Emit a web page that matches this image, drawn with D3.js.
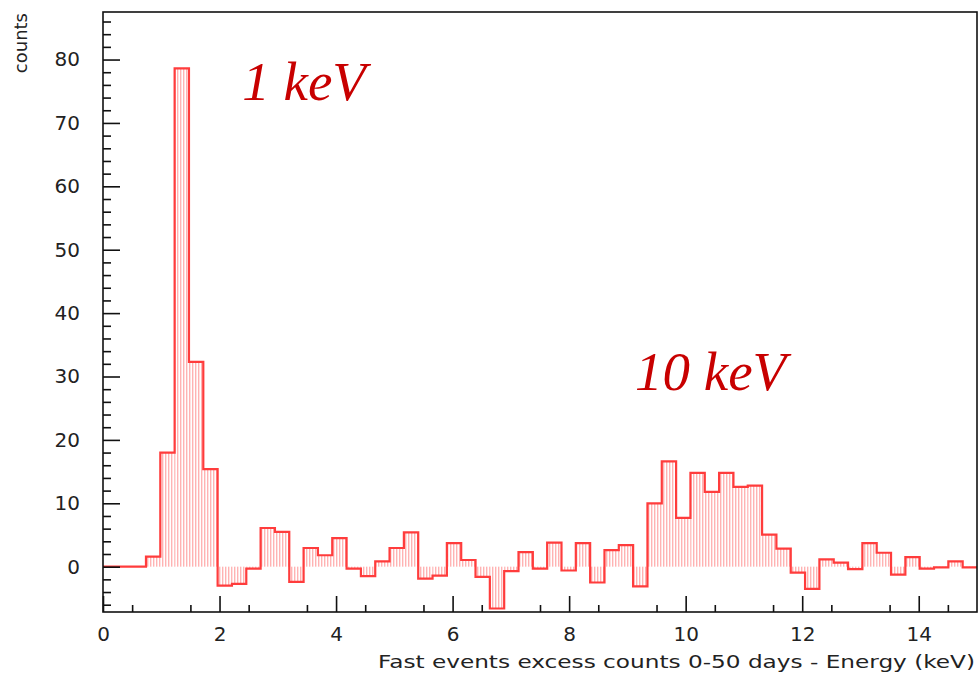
<!DOCTYPE html>
<html>
<head>
<meta charset="utf-8">
<script src="https://cdn.jsdelivr.net/npm/d3@7"></script>
<style>
  body { margin: 0; background: #fff; }
  svg { display: block; }
  .tick text { font-family: "DejaVu Sans", sans-serif; fill: #222; }
</style>
</head>
<body>
<div id="chart"></div>
<script>
// histogram: 61 bins spanning 0-15 keV
const binCount = 61;
const energyRange = [0, 15];
const counts = [
  0, 0, 0, 1.6, 18.0, 78.6, 32.3, 15.4, -3.0, -2.7,
  -0.3, 6.1, 5.5, -2.4, 2.95, 1.8, 4.5, -0.3, -1.5, 0.85,
  2.95, 5.4, -1.9, -1.4, 3.7, 1.05, -1.6, -6.6, -0.7, 2.3,
  -0.3, 3.8, -0.6, 3.7, -2.5, 2.6, 3.4, -3.1, 10.0, 16.6,
  7.7, 14.8, 11.8, 14.8, 12.6, 12.8, 5.05, 2.85, -0.95, -3.5,
  1.15, 0.65, -0.4, 3.7, 2.2, -1.25, 1.5, -0.3, -0.1, 0.85,
  -0.1
];
const xMajorTicks = [0, 2, 4, 6, 8, 10, 12, 14];
const yMajorTicks = [0, 10, 20, 30, 40, 50, 60, 70, 80];
const yDomain = [-7.15, 87.5];

const xTitle = 'Fast events excess counts 0-50 days - Energy (keV)';
const yTitle = 'counts';
const notes = [
  {label: '1 keV', x: 2.39, y: 73.6},
  {label: '10 keV', x: 9.13, y: 27.8}
];

const W = 978, H = 679;
const frame = {left: 103, right: 977, top: 12, bottom: 612};

const svg = d3.select('#chart').append('svg')
    .attr('width', W)
    .attr('height', H);

const x = d3.scaleLinear().domain(energyRange).range([frame.left, frame.right]);
const y = d3.scaleLinear().domain(yDomain).range([frame.bottom, frame.top]);

const binW = (energyRange[1] - energyRange[0]) / binCount;
const bins = counts.map((v, i) => ({x0: energyRange[0] + i * binW, x1: energyRange[0] + (i + 1) * binW, v: v}));

// vertical hatch fill like ROOT fill style
const defs = svg.append('defs');
defs.append('pattern')
    .attr('id', 'hatch')
    .attr('patternUnits', 'userSpaceOnUse')
    .attr('width', 3)
    .attr('height', 10)
  .append('rect')
    .attr('x', 0).attr('y', 0)
    .attr('width', 1.4).attr('height', 10)
    .attr('fill', '#ffb3b3');

svg.append('g').selectAll('rect')
    .data(bins)
    .enter()
    .append('rect')
    .attr('x', d => x(d.x0))
    .attr('width', d => x(d.x1) - x(d.x0))
    .attr('y', d => Math.min(y(d.v), y(0)))
    .attr('height', d => Math.abs(y(d.v) - y(0)))
    .attr('fill', 'url(#hatch)');

// step outline
const pts = [];
bins.forEach(d => { pts.push([d.x0, d.v]); pts.push([d.x1, d.v]); });
const line = d3.line().x(d => x(d[0])).y(d => y(d[1]));
svg.append('path')
    .datum(pts)
    .attr('d', line)
    .attr('fill', 'none')
    .attr('stroke', '#ff3c3c')
    .attr('stroke-width', 2.2)
    .attr('stroke-linejoin', 'miter');

// axes, ticks inside the frame
const xAxisMajor = d3.axisBottom(x).tickValues(xMajorTicks).tickSize(-16).tickPadding(15).tickFormat(d3.format('d'));
const xAxisMinor = d3.axisBottom(x).tickValues(d3.range(0.5, 15, 1)).tickSize(-7).tickFormat('');
const yAxisMajor = d3.axisLeft(y).tickValues(yMajorTicks).tickSize(-17).tickPadding(23).tickFormat(d3.format('d'));
const yAxisMinor = d3.axisLeft(y).tickValues(d3.range(-6, 88, 2).filter(v => v % 10 !== 0)).tickSize(-8).tickFormat('');

function styleAxis(g) {
  g.select('.domain').remove();
  g.selectAll('line').attr('stroke', '#111').attr('stroke-width', 1.6);
  g.selectAll('text').attr('font-size', 20);
}

svg.append('g').attr('transform', `translate(0,${frame.bottom})`).call(xAxisMajor).call(styleAxis);
svg.append('g').attr('transform', `translate(0,${frame.bottom})`).call(xAxisMinor).call(styleAxis);
svg.append('g').attr('transform', `translate(${frame.left},0)`).call(yAxisMajor).call(styleAxis);
svg.append('g').attr('transform', `translate(${frame.left},0)`).call(yAxisMinor).call(styleAxis);

// frame
svg.append('rect')
    .attr('x', frame.left)
    .attr('y', frame.top)
    .attr('width', frame.right - frame.left)
    .attr('height', frame.bottom - frame.top)
    .attr('fill', 'none')
    .attr('stroke', '#111')
    .attr('stroke-width', 1.6);

// titles
svg.append('text')
    .attr('x', 975)
    .attr('y', 668)
    .attr('text-anchor', 'end')
    .attr('font-family', '"DejaVu Sans", sans-serif')
    .attr('font-size', 18)
    .attr('fill', '#222')
    .attr('textLength', 597)
    .attr('lengthAdjust', 'spacingAndGlyphs')
    .text(xTitle);

svg.append('text')
    .attr('transform', 'translate(27,13) rotate(-90)')
    .attr('text-anchor', 'end')
    .attr('font-family', '"DejaVu Sans", sans-serif')
    .attr('font-size', 18)
    .attr('fill', '#222')
    .text(yTitle);

// annotations
svg.append('g').selectAll('text')
    .data(notes)
    .enter()
    .append('text')
    .attr('x', d => x(d.x))
    .attr('y', d => y(d.y))
    .attr('font-family', '"Liberation Serif", "Times New Roman", serif')
    .attr('font-style', 'italic')
    .attr('font-size', 55)
    .attr('fill', '#c80000')
    .text(d => d.label);
</script>
</body>
</html>
